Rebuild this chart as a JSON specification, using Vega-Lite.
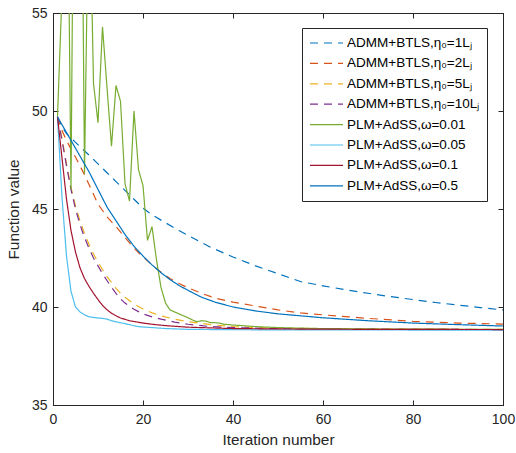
{
  "$schema": "https://vega.github.io/schema/vega-lite/v6.json",
  "width": 450,
  "height": 392,
  "autosize": {"type": "none"},
  "padding": {"left": 53, "top": 13, "right": 13, "bottom": 48},
  "background": "white",
  "config": {
    "view": {"stroke": "#262626", "strokeWidth": 1},
    "font": "Liberation Sans",
    "axis": {
      "grid": false,
      "domainColor": "#262626",
      "tickColor": "#262626",
      "labelColor": "#262626",
      "titleColor": "#262626",
      "labelFont": "Liberation Sans",
      "titleFont": "Liberation Sans",
      "labelFontSize": 14,
      "titleFontSize": 15.4,
      "titleFontWeight": "normal",
      "tickSize": -5,
      "tickWidth": 1,
      "domainWidth": 1,
      "labelFlush": false,
      "labelOverlap": false
    }
  },
  "datasets": {
    "curves": [
      {"s": "ADMM+BTLS,η₀=1Lⱼ", "it": 1, "v": 49.7},
      {"s": "ADMM+BTLS,η₀=1Lⱼ", "it": 2, "v": 49.2},
      {"s": "ADMM+BTLS,η₀=1Lⱼ", "it": 3, "v": 48.85},
      {"s": "ADMM+BTLS,η₀=1Lⱼ", "it": 5, "v": 48.4},
      {"s": "ADMM+BTLS,η₀=1Lⱼ", "it": 8, "v": 47.75},
      {"s": "ADMM+BTLS,η₀=1Lⱼ", "it": 10, "v": 47.3},
      {"s": "ADMM+BTLS,η₀=1Lⱼ", "it": 12, "v": 46.85},
      {"s": "ADMM+BTLS,η₀=1Lⱼ", "it": 14, "v": 46.4},
      {"s": "ADMM+BTLS,η₀=1Lⱼ", "it": 16, "v": 45.95},
      {"s": "ADMM+BTLS,η₀=1Lⱼ", "it": 18, "v": 45.5},
      {"s": "ADMM+BTLS,η₀=1Lⱼ", "it": 20, "v": 45.05},
      {"s": "ADMM+BTLS,η₀=1Lⱼ", "it": 22, "v": 44.7},
      {"s": "ADMM+BTLS,η₀=1Lⱼ", "it": 25, "v": 44.3},
      {"s": "ADMM+BTLS,η₀=1Lⱼ", "it": 28, "v": 43.9},
      {"s": "ADMM+BTLS,η₀=1Lⱼ", "it": 30, "v": 43.65},
      {"s": "ADMM+BTLS,η₀=1Lⱼ", "it": 35, "v": 43.05},
      {"s": "ADMM+BTLS,η₀=1Lⱼ", "it": 40, "v": 42.55},
      {"s": "ADMM+BTLS,η₀=1Lⱼ", "it": 45, "v": 42.1},
      {"s": "ADMM+BTLS,η₀=1Lⱼ", "it": 50, "v": 41.7},
      {"s": "ADMM+BTLS,η₀=1Lⱼ", "it": 55, "v": 41.3},
      {"s": "ADMM+BTLS,η₀=1Lⱼ", "it": 60, "v": 41.08},
      {"s": "ADMM+BTLS,η₀=1Lⱼ", "it": 65, "v": 40.88},
      {"s": "ADMM+BTLS,η₀=1Lⱼ", "it": 70, "v": 40.7},
      {"s": "ADMM+BTLS,η₀=1Lⱼ", "it": 75, "v": 40.53},
      {"s": "ADMM+BTLS,η₀=1Lⱼ", "it": 80, "v": 40.38},
      {"s": "ADMM+BTLS,η₀=1Lⱼ", "it": 85, "v": 40.23},
      {"s": "ADMM+BTLS,η₀=1Lⱼ", "it": 90, "v": 40.1},
      {"s": "ADMM+BTLS,η₀=1Lⱼ", "it": 95, "v": 39.97},
      {"s": "ADMM+BTLS,η₀=1Lⱼ", "it": 100, "v": 39.85},

      {"s": "ADMM+BTLS,η₀=2Lⱼ", "it": 1, "v": 49.7},
      {"s": "ADMM+BTLS,η₀=2Lⱼ", "it": 2, "v": 49.0},
      {"s": "ADMM+BTLS,η₀=2Lⱼ", "it": 3, "v": 48.5},
      {"s": "ADMM+BTLS,η₀=2Lⱼ", "it": 4, "v": 48.05},
      {"s": "ADMM+BTLS,η₀=2Lⱼ", "it": 5, "v": 47.65},
      {"s": "ADMM+BTLS,η₀=2Lⱼ", "it": 6, "v": 47.2},
      {"s": "ADMM+BTLS,η₀=2Lⱼ", "it": 7, "v": 46.75},
      {"s": "ADMM+BTLS,η₀=2Lⱼ", "it": 8, "v": 46.25},
      {"s": "ADMM+BTLS,η₀=2Lⱼ", "it": 9, "v": 45.75},
      {"s": "ADMM+BTLS,η₀=2Lⱼ", "it": 10, "v": 45.25},
      {"s": "ADMM+BTLS,η₀=2Lⱼ", "it": 12, "v": 44.6},
      {"s": "ADMM+BTLS,η₀=2Lⱼ", "it": 14, "v": 44.1},
      {"s": "ADMM+BTLS,η₀=2Lⱼ", "it": 16, "v": 43.55},
      {"s": "ADMM+BTLS,η₀=2Lⱼ", "it": 18, "v": 43.0},
      {"s": "ADMM+BTLS,η₀=2Lⱼ", "it": 20, "v": 42.55},
      {"s": "ADMM+BTLS,η₀=2Lⱼ", "it": 22, "v": 42.15},
      {"s": "ADMM+BTLS,η₀=2Lⱼ", "it": 24, "v": 41.78},
      {"s": "ADMM+BTLS,η₀=2Lⱼ", "it": 26, "v": 41.45},
      {"s": "ADMM+BTLS,η₀=2Lⱼ", "it": 28, "v": 41.2},
      {"s": "ADMM+BTLS,η₀=2Lⱼ", "it": 30, "v": 40.98},
      {"s": "ADMM+BTLS,η₀=2Lⱼ", "it": 33, "v": 40.7},
      {"s": "ADMM+BTLS,η₀=2Lⱼ", "it": 36, "v": 40.45},
      {"s": "ADMM+BTLS,η₀=2Lⱼ", "it": 40, "v": 40.25},
      {"s": "ADMM+BTLS,η₀=2Lⱼ", "it": 45, "v": 40.05},
      {"s": "ADMM+BTLS,η₀=2Lⱼ", "it": 50, "v": 39.85},
      {"s": "ADMM+BTLS,η₀=2Lⱼ", "it": 55, "v": 39.7},
      {"s": "ADMM+BTLS,η₀=2Lⱼ", "it": 60, "v": 39.6},
      {"s": "ADMM+BTLS,η₀=2Lⱼ", "it": 70, "v": 39.42},
      {"s": "ADMM+BTLS,η₀=2Lⱼ", "it": 80, "v": 39.27},
      {"s": "ADMM+BTLS,η₀=2Lⱼ", "it": 90, "v": 39.18},
      {"s": "ADMM+BTLS,η₀=2Lⱼ", "it": 100, "v": 39.13},

      {"s": "ADMM+BTLS,η₀=5Lⱼ", "it": 1, "v": 49.7},
      {"s": "ADMM+BTLS,η₀=5Lⱼ", "it": 2, "v": 48.6},
      {"s": "ADMM+BTLS,η₀=5Lⱼ", "it": 3, "v": 47.3},
      {"s": "ADMM+BTLS,η₀=5Lⱼ", "it": 4, "v": 46.1},
      {"s": "ADMM+BTLS,η₀=5Lⱼ", "it": 5, "v": 45.15},
      {"s": "ADMM+BTLS,η₀=5Lⱼ", "it": 6, "v": 44.4},
      {"s": "ADMM+BTLS,η₀=5Lⱼ", "it": 7, "v": 43.75},
      {"s": "ADMM+BTLS,η₀=5Lⱼ", "it": 8, "v": 43.2},
      {"s": "ADMM+BTLS,η₀=5Lⱼ", "it": 9, "v": 42.7},
      {"s": "ADMM+BTLS,η₀=5Lⱼ", "it": 10, "v": 42.3},
      {"s": "ADMM+BTLS,η₀=5Lⱼ", "it": 11, "v": 41.9},
      {"s": "ADMM+BTLS,η₀=5Lⱼ", "it": 12, "v": 41.55},
      {"s": "ADMM+BTLS,η₀=5Lⱼ", "it": 13, "v": 41.25},
      {"s": "ADMM+BTLS,η₀=5Lⱼ", "it": 14, "v": 40.95},
      {"s": "ADMM+BTLS,η₀=5Lⱼ", "it": 15, "v": 40.7},
      {"s": "ADMM+BTLS,η₀=5Lⱼ", "it": 16, "v": 40.5},
      {"s": "ADMM+BTLS,η₀=5Lⱼ", "it": 18, "v": 40.15},
      {"s": "ADMM+BTLS,η₀=5Lⱼ", "it": 20, "v": 39.9},
      {"s": "ADMM+BTLS,η₀=5Lⱼ", "it": 22, "v": 39.7},
      {"s": "ADMM+BTLS,η₀=5Lⱼ", "it": 24, "v": 39.55},
      {"s": "ADMM+BTLS,η₀=5Lⱼ", "it": 27, "v": 39.38},
      {"s": "ADMM+BTLS,η₀=5Lⱼ", "it": 30, "v": 39.25},
      {"s": "ADMM+BTLS,η₀=5Lⱼ", "it": 35, "v": 39.1},
      {"s": "ADMM+BTLS,η₀=5Lⱼ", "it": 40, "v": 39.0},
      {"s": "ADMM+BTLS,η₀=5Lⱼ", "it": 45, "v": 38.95},
      {"s": "ADMM+BTLS,η₀=5Lⱼ", "it": 50, "v": 38.92},
      {"s": "ADMM+BTLS,η₀=5Lⱼ", "it": 60, "v": 38.9},
      {"s": "ADMM+BTLS,η₀=5Lⱼ", "it": 80, "v": 38.87},
      {"s": "ADMM+BTLS,η₀=5Lⱼ", "it": 100, "v": 38.86},

      {"s": "ADMM+BTLS,η₀=10Lⱼ", "it": 1, "v": 49.7},
      {"s": "ADMM+BTLS,η₀=10Lⱼ", "it": 2, "v": 48.5},
      {"s": "ADMM+BTLS,η₀=10Lⱼ", "it": 3, "v": 47.2},
      {"s": "ADMM+BTLS,η₀=10Lⱼ", "it": 4, "v": 46.0},
      {"s": "ADMM+BTLS,η₀=10Lⱼ", "it": 5, "v": 45.0},
      {"s": "ADMM+BTLS,η₀=10Lⱼ", "it": 6, "v": 44.2},
      {"s": "ADMM+BTLS,η₀=10Lⱼ", "it": 7, "v": 43.55},
      {"s": "ADMM+BTLS,η₀=10Lⱼ", "it": 8, "v": 43.0},
      {"s": "ADMM+BTLS,η₀=10Lⱼ", "it": 9, "v": 42.5},
      {"s": "ADMM+BTLS,η₀=10Lⱼ", "it": 10, "v": 42.1},
      {"s": "ADMM+BTLS,η₀=10Lⱼ", "it": 11, "v": 41.7},
      {"s": "ADMM+BTLS,η₀=10Lⱼ", "it": 12, "v": 41.35},
      {"s": "ADMM+BTLS,η₀=10Lⱼ", "it": 13, "v": 41.0},
      {"s": "ADMM+BTLS,η₀=10Lⱼ", "it": 14, "v": 40.7},
      {"s": "ADMM+BTLS,η₀=10Lⱼ", "it": 15, "v": 40.42},
      {"s": "ADMM+BTLS,η₀=10Lⱼ", "it": 16, "v": 40.2},
      {"s": "ADMM+BTLS,η₀=10Lⱼ", "it": 18, "v": 39.88},
      {"s": "ADMM+BTLS,η₀=10Lⱼ", "it": 20, "v": 39.65},
      {"s": "ADMM+BTLS,η₀=10Lⱼ", "it": 22, "v": 39.5},
      {"s": "ADMM+BTLS,η₀=10Lⱼ", "it": 24, "v": 39.38},
      {"s": "ADMM+BTLS,η₀=10Lⱼ", "it": 27, "v": 39.23},
      {"s": "ADMM+BTLS,η₀=10Lⱼ", "it": 30, "v": 39.12},
      {"s": "ADMM+BTLS,η₀=10Lⱼ", "it": 35, "v": 39.0},
      {"s": "ADMM+BTLS,η₀=10Lⱼ", "it": 40, "v": 38.95},
      {"s": "ADMM+BTLS,η₀=10Lⱼ", "it": 50, "v": 38.9},
      {"s": "ADMM+BTLS,η₀=10Lⱼ", "it": 60, "v": 38.88},
      {"s": "ADMM+BTLS,η₀=10Lⱼ", "it": 80, "v": 38.86},
      {"s": "ADMM+BTLS,η₀=10Lⱼ", "it": 100, "v": 38.85},

      {"s": "PLM+AdSS,ω=0.01", "it": 1, "v": 49.7},
      {"s": "PLM+AdSS,ω=0.01", "it": 2, "v": 56.0},
      {"s": "PLM+AdSS,ω=0.01", "it": 3, "v": 68.5},
      {"s": "PLM+AdSS,ω=0.01", "it": 4, "v": 46.0},
      {"s": "PLM+AdSS,ω=0.01", "it": 5, "v": 76.0},
      {"s": "PLM+AdSS,ω=0.01", "it": 6, "v": 74.0},
      {"s": "PLM+AdSS,ω=0.01", "it": 7, "v": 46.8},
      {"s": "PLM+AdSS,ω=0.01", "it": 8, "v": 63.0},
      {"s": "PLM+AdSS,ω=0.01", "it": 9, "v": 51.4},
      {"s": "PLM+AdSS,ω=0.01", "it": 10, "v": 49.4},
      {"s": "PLM+AdSS,ω=0.01", "it": 11, "v": 54.3},
      {"s": "PLM+AdSS,ω=0.01", "it": 12, "v": 51.2},
      {"s": "PLM+AdSS,ω=0.01", "it": 13, "v": 48.2},
      {"s": "PLM+AdSS,ω=0.01", "it": 14, "v": 51.3},
      {"s": "PLM+AdSS,ω=0.01", "it": 15, "v": 50.5},
      {"s": "PLM+AdSS,ω=0.01", "it": 16, "v": 46.3},
      {"s": "PLM+AdSS,ω=0.01", "it": 17, "v": 45.4},
      {"s": "PLM+AdSS,ω=0.01", "it": 18, "v": 50.0},
      {"s": "PLM+AdSS,ω=0.01", "it": 19, "v": 47.0},
      {"s": "PLM+AdSS,ω=0.01", "it": 20, "v": 46.2},
      {"s": "PLM+AdSS,ω=0.01", "it": 21, "v": 43.4},
      {"s": "PLM+AdSS,ω=0.01", "it": 22, "v": 44.1},
      {"s": "PLM+AdSS,ω=0.01", "it": 23, "v": 42.4},
      {"s": "PLM+AdSS,ω=0.01", "it": 24, "v": 41.0},
      {"s": "PLM+AdSS,ω=0.01", "it": 25, "v": 40.2},
      {"s": "PLM+AdSS,ω=0.01", "it": 26, "v": 39.85},
      {"s": "PLM+AdSS,ω=0.01", "it": 27, "v": 39.75},
      {"s": "PLM+AdSS,ω=0.01", "it": 28, "v": 39.65},
      {"s": "PLM+AdSS,ω=0.01", "it": 29, "v": 39.55},
      {"s": "PLM+AdSS,ω=0.01", "it": 30, "v": 39.45},
      {"s": "PLM+AdSS,ω=0.01", "it": 31, "v": 39.34},
      {"s": "PLM+AdSS,ω=0.01", "it": 32, "v": 39.25},
      {"s": "PLM+AdSS,ω=0.01", "it": 33, "v": 39.3},
      {"s": "PLM+AdSS,ω=0.01", "it": 34, "v": 39.28},
      {"s": "PLM+AdSS,ω=0.01", "it": 35, "v": 39.2},
      {"s": "PLM+AdSS,ω=0.01", "it": 36, "v": 39.2},
      {"s": "PLM+AdSS,ω=0.01", "it": 37, "v": 39.18},
      {"s": "PLM+AdSS,ω=0.01", "it": 38, "v": 39.12},
      {"s": "PLM+AdSS,ω=0.01", "it": 39, "v": 39.1},
      {"s": "PLM+AdSS,ω=0.01", "it": 40, "v": 39.08},
      {"s": "PLM+AdSS,ω=0.01", "it": 42, "v": 39.05},
      {"s": "PLM+AdSS,ω=0.01", "it": 45, "v": 39.0},
      {"s": "PLM+AdSS,ω=0.01", "it": 50, "v": 38.95},
      {"s": "PLM+AdSS,ω=0.01", "it": 55, "v": 38.92},
      {"s": "PLM+AdSS,ω=0.01", "it": 60, "v": 38.9},
      {"s": "PLM+AdSS,ω=0.01", "it": 70, "v": 38.88},
      {"s": "PLM+AdSS,ω=0.01", "it": 80, "v": 38.87},
      {"s": "PLM+AdSS,ω=0.01", "it": 100, "v": 38.86},

      {"s": "PLM+AdSS,ω=0.05", "it": 1, "v": 49.7},
      {"s": "PLM+AdSS,ω=0.05", "it": 2, "v": 45.6},
      {"s": "PLM+AdSS,ω=0.05", "it": 3, "v": 42.6},
      {"s": "PLM+AdSS,ω=0.05", "it": 4, "v": 40.8},
      {"s": "PLM+AdSS,ω=0.05", "it": 5, "v": 40.0},
      {"s": "PLM+AdSS,ω=0.05", "it": 6, "v": 39.75},
      {"s": "PLM+AdSS,ω=0.05", "it": 7, "v": 39.6},
      {"s": "PLM+AdSS,ω=0.05", "it": 8, "v": 39.5},
      {"s": "PLM+AdSS,ω=0.05", "it": 9, "v": 39.47},
      {"s": "PLM+AdSS,ω=0.05", "it": 10, "v": 39.44},
      {"s": "PLM+AdSS,ω=0.05", "it": 11, "v": 39.42},
      {"s": "PLM+AdSS,ω=0.05", "it": 12, "v": 39.38},
      {"s": "PLM+AdSS,ω=0.05", "it": 13, "v": 39.3},
      {"s": "PLM+AdSS,ω=0.05", "it": 14, "v": 39.24},
      {"s": "PLM+AdSS,ω=0.05", "it": 15, "v": 39.2},
      {"s": "PLM+AdSS,ω=0.05", "it": 16, "v": 39.15},
      {"s": "PLM+AdSS,ω=0.05", "it": 17, "v": 39.1},
      {"s": "PLM+AdSS,ω=0.05", "it": 18, "v": 39.04},
      {"s": "PLM+AdSS,ω=0.05", "it": 19, "v": 39.0},
      {"s": "PLM+AdSS,ω=0.05", "it": 20, "v": 38.98},
      {"s": "PLM+AdSS,ω=0.05", "it": 22, "v": 38.95},
      {"s": "PLM+AdSS,ω=0.05", "it": 25, "v": 38.9},
      {"s": "PLM+AdSS,ω=0.05", "it": 30, "v": 38.86},
      {"s": "PLM+AdSS,ω=0.05", "it": 40, "v": 38.84},
      {"s": "PLM+AdSS,ω=0.05", "it": 60, "v": 38.83},
      {"s": "PLM+AdSS,ω=0.05", "it": 100, "v": 38.82},

      {"s": "PLM+AdSS,ω=0.1", "it": 1, "v": 49.7},
      {"s": "PLM+AdSS,ω=0.1", "it": 2, "v": 47.6},
      {"s": "PLM+AdSS,ω=0.1", "it": 3, "v": 45.5},
      {"s": "PLM+AdSS,ω=0.1", "it": 4, "v": 43.9},
      {"s": "PLM+AdSS,ω=0.1", "it": 5, "v": 42.8},
      {"s": "PLM+AdSS,ω=0.1", "it": 6, "v": 42.0},
      {"s": "PLM+AdSS,ω=0.1", "it": 7, "v": 41.45},
      {"s": "PLM+AdSS,ω=0.1", "it": 8, "v": 41.05},
      {"s": "PLM+AdSS,ω=0.1", "it": 9, "v": 40.7},
      {"s": "PLM+AdSS,ω=0.1", "it": 10, "v": 40.38},
      {"s": "PLM+AdSS,ω=0.1", "it": 11, "v": 40.08},
      {"s": "PLM+AdSS,ω=0.1", "it": 12, "v": 39.86},
      {"s": "PLM+AdSS,ω=0.1", "it": 13, "v": 39.68},
      {"s": "PLM+AdSS,ω=0.1", "it": 14, "v": 39.55},
      {"s": "PLM+AdSS,ω=0.1", "it": 15, "v": 39.44},
      {"s": "PLM+AdSS,ω=0.1", "it": 17, "v": 39.3},
      {"s": "PLM+AdSS,ω=0.1", "it": 20, "v": 39.18},
      {"s": "PLM+AdSS,ω=0.1", "it": 22, "v": 39.12},
      {"s": "PLM+AdSS,ω=0.1", "it": 25, "v": 39.05},
      {"s": "PLM+AdSS,ω=0.1", "it": 30, "v": 38.97},
      {"s": "PLM+AdSS,ω=0.1", "it": 40, "v": 38.9},
      {"s": "PLM+AdSS,ω=0.1", "it": 50, "v": 38.88},
      {"s": "PLM+AdSS,ω=0.1", "it": 70, "v": 38.86},
      {"s": "PLM+AdSS,ω=0.1", "it": 100, "v": 38.85},

      {"s": "PLM+AdSS,ω=0.5", "it": 1, "v": 49.7},
      {"s": "PLM+AdSS,ω=0.5", "it": 2, "v": 49.3},
      {"s": "PLM+AdSS,ω=0.5", "it": 3, "v": 48.9},
      {"s": "PLM+AdSS,ω=0.5", "it": 4, "v": 48.5},
      {"s": "PLM+AdSS,ω=0.5", "it": 5, "v": 48.1},
      {"s": "PLM+AdSS,ω=0.5", "it": 6, "v": 47.7},
      {"s": "PLM+AdSS,ω=0.5", "it": 7, "v": 47.3},
      {"s": "PLM+AdSS,ω=0.5", "it": 8, "v": 46.9},
      {"s": "PLM+AdSS,ω=0.5", "it": 10, "v": 46.0},
      {"s": "PLM+AdSS,ω=0.5", "it": 12, "v": 45.1},
      {"s": "PLM+AdSS,ω=0.5", "it": 14, "v": 44.4},
      {"s": "PLM+AdSS,ω=0.5", "it": 16, "v": 43.7},
      {"s": "PLM+AdSS,ω=0.5", "it": 18, "v": 43.1},
      {"s": "PLM+AdSS,ω=0.5", "it": 20, "v": 42.6},
      {"s": "PLM+AdSS,ω=0.5", "it": 22, "v": 42.15},
      {"s": "PLM+AdSS,ω=0.5", "it": 24, "v": 41.75},
      {"s": "PLM+AdSS,ω=0.5", "it": 26, "v": 41.4},
      {"s": "PLM+AdSS,ω=0.5", "it": 28, "v": 41.1},
      {"s": "PLM+AdSS,ω=0.5", "it": 30, "v": 40.85},
      {"s": "PLM+AdSS,ω=0.5", "it": 33, "v": 40.5},
      {"s": "PLM+AdSS,ω=0.5", "it": 36, "v": 40.25},
      {"s": "PLM+AdSS,ω=0.5", "it": 40, "v": 40.0},
      {"s": "PLM+AdSS,ω=0.5", "it": 45, "v": 39.8},
      {"s": "PLM+AdSS,ω=0.5", "it": 50, "v": 39.65},
      {"s": "PLM+AdSS,ω=0.5", "it": 55, "v": 39.55},
      {"s": "PLM+AdSS,ω=0.5", "it": 60, "v": 39.45},
      {"s": "PLM+AdSS,ω=0.5", "it": 70, "v": 39.3},
      {"s": "PLM+AdSS,ω=0.5", "it": 80, "v": 39.18},
      {"s": "PLM+AdSS,ω=0.5", "it": 90, "v": 39.1},
      {"s": "PLM+AdSS,ω=0.5", "it": 100, "v": 39.03}
    ]
  },
  "data": {"name": "curves"},
  "layer": [
    {
      "mark": {"type": "line", "clip": true, "strokeWidth": 1.2},
      "encoding": {
        "x": {
          "field": "it", "type": "quantitative",
          "scale": {"domain": [0, 100], "nice": false},
          "axis": {"values": [0, 20, 40, 60, 80, 100], "title": "Iteration number", "labelPadding": 12, "titlePadding": 6}
        },
        "y": {
          "field": "v", "type": "quantitative",
          "scale": {"domain": [35, 55], "nice": false, "zero": false},
          "axis": {"values": [35, 40, 45, 50, 55], "title": "Function value", "labelPadding": 11, "titlePadding": 10}
        },
        "color": {
          "field": "s", "type": "nominal",
          "scale": {
            "domain": ["ADMM+BTLS,η₀=1Lⱼ", "ADMM+BTLS,η₀=2Lⱼ", "ADMM+BTLS,η₀=5Lⱼ", "ADMM+BTLS,η₀=10Lⱼ", "PLM+AdSS,ω=0.01", "PLM+AdSS,ω=0.05", "PLM+AdSS,ω=0.1", "PLM+AdSS,ω=0.5"],
            "range": ["#0072BD", "#D95319", "#EDB120", "#7E2F8E", "#77AC30", "#4DBEEE", "#A2142F", "#0072BD"]
          },
          "legend": {"title": null, "orient": "none", "legendX": 249, "legendY": 15, "symbolType": "stroke", "symbolSize": 1089, "symbolStrokeWidth": 1.2, "clipHeight": 16, "rowPadding": 4.4, "padding": 7, "strokeColor": "#262626", "fillColor": "white", "labelFont": "Liberation Sans", "labelFontSize": 13.5, "labelColor": "black", "labelOffset": 3, "labelLimit": 300}
        },
        "strokeDash": {
          "field": "s", "type": "nominal",
          "scale": {
            "domain": ["ADMM+BTLS,η₀=1Lⱼ", "ADMM+BTLS,η₀=2Lⱼ", "ADMM+BTLS,η₀=5Lⱼ", "ADMM+BTLS,η₀=10Lⱼ", "PLM+AdSS,ω=0.01", "PLM+AdSS,ω=0.05", "PLM+AdSS,ω=0.1", "PLM+AdSS,ω=0.5"],
            "range": [[8, 6], [8, 6], [8, 6], [8, 6], [1, 0], [1, 0], [1, 0], [1, 0]]
          },
          "legend": {"title": null, "orient": "none", "legendX": 249, "legendY": 15, "symbolType": "stroke", "symbolSize": 1089, "symbolStrokeWidth": 1.2, "clipHeight": 16, "rowPadding": 4.4, "padding": 7, "strokeColor": "#262626", "fillColor": "white", "labelFont": "Liberation Sans", "labelFontSize": 13.5, "labelColor": "black", "labelOffset": 3, "labelLimit": 300}
        }
      }
    },
    {
      "mark": {"type": "line", "clip": true, "opacity": 0},
      "encoding": {
        "x": {"field": "it", "type": "quantitative", "axis": {"orient": "top", "values": [0, 20, 40, 60, 80, 100], "labels": false, "title": null}},
        "y": {"field": "v", "type": "quantitative", "axis": {"orient": "right", "values": [35, 40, 45, 50, 55], "labels": false, "title": null}},
        "detail": {"field": "s"}
      }
    }
  ],
  "resolve": {"axis": {"x": "independent", "y": "independent"}}
}
